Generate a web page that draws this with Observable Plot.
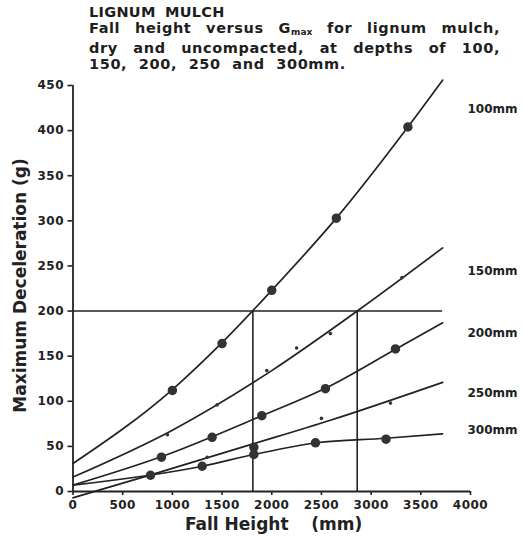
<!DOCTYPE html>
<html>
<head>
<meta charset="utf-8">
<script src="https://cdn.jsdelivr.net/npm/d3@7"></script>
<script src="https://cdn.jsdelivr.net/npm/@observablehq/plot@0.6"></script>
<style>
  html, body { margin: 0; padding: 0; background: #fff; }
  body { width: 524px; height: 538px; position: relative; overflow: hidden; font-family: "DejaVu Sans", sans-serif; color: #1e1e1e; }
  #title { position: absolute; left: 89px; top: 5px; width: 411px; font-size: 14.5px; font-weight: bold; line-height: 15.9px; letter-spacing: 0.6px; white-space: nowrap; }
  #title .l1 { letter-spacing: 0.3px; word-spacing: 4px; }
  #title .j { text-align: justify; text-align-last: justify; }
  #title .l4 { word-spacing: 6px; }
  #title sub { font-size: 9px; vertical-align: -2px; letter-spacing: 0; }
  #chart { position: absolute; left: 0; top: 70px; }
  #chart svg { font-family: "DejaVu Sans", sans-serif; }
  #chart svg g[aria-label="x-axis tick label"] text,
  #chart svg g[aria-label="y-axis tick label"] text { letter-spacing: 0.5px; }
</style>
</head>
<body>
<div id="title">
  <div class="l1">LIGNUM MULCH</div>
  <div class="j">Fall height versus G<sub>max</sub> for lignum mulch,</div>
  <div class="j">dry and uncompacted, at depths of 100,</div>
  <div class="l4">150, 200, 250 and 300mm.</div>
</div>
<div id="chart"></div>
<script>
// ---- data ----
const depths = ["100mm", "150mm", "200mm", "250mm", "300mm"];

// fitted curves (fall height mm -> max deceleration g)
const fitX100 = [0, 1000, 1500, 2000, 2650, 3370, 3720];
const fitY100 = [31, 113, 165, 223, 303, 404, 456];
const fitX150 = [0, 1000, 2000, 2860, 3720];
const fitY150 = [16, 68, 134, 200, 270];
const fitX200 = [0, 900, 1900, 2550, 3250, 3720];
const fitY200 = [7, 39, 84, 115, 158, 187];
const fitX250 = [0, 800, 1820, 2590, 3720];
const fitY250 = [-7, 19, 53, 79, 121];
const fitX300 = [0, 1300, 1820, 2450, 3150, 3720];
const fitY300 = [7, 28, 41, 54, 59, 64];

// measured points (large circles)
const ptX100 = [1000, 1500, 2000, 2650, 3370];
const ptY100 = [112, 164, 223, 303, 404];
const ptX200 = [890, 1400, 1900, 2540, 3245];
const ptY200 = [38, 60, 84, 114, 158];
const ptX250 = [780, 1820];
const ptY250 = [18, 49];
const ptX300 = [1300, 1820, 2440, 3150];
const ptY300 = [28, 41, 54, 58];

// measured points (small dots)
const dotX150 = [950, 1450, 1950, 2250, 2590, 3310];
const dotY150 = [63, 96, 134, 159, 175, 237];
const dotX250 = [1350, 2500, 3195];
const dotY250 = [38, 81, 98];

// 200 g criterion and the fall heights where it is reached
const criterionG = [200];
const criticalHeights = [1810, 2860];
const criterionEnd = 3720;

// label anchors (g) for the depth names at the right
const labelAt = [424, 244, 176, 109, 68];

const xTicks = [0, 500, 1000, 1500, 2000, 2500, 3000, 3500, 4000];
const yTicks = [0, 50, 100, 150, 200, 250, 300, 350, 400, 450];

// ---- build tables ----
const fits = [[fitX100, fitY100], [fitX150, fitY150], [fitX200, fitY200], [fitX250, fitY250], [fitX300, fitY300]];
const fitRows = fits.flatMap(([xs, ys], i) => xs.map((x, j) => ({depth: depths[i], x, y: ys[j]})));
const circleSets = [[ptX100, ptY100], [ptX200, ptY200], [ptX250, ptY250], [ptX300, ptY300]];
const circleRows = circleSets.flatMap(([xs, ys]) => xs.map((x, j) => ({x, y: ys[j]})));
const dotSets = [[dotX150, dotY150], [dotX250, dotY250]];
const dotRows = dotSets.flatMap(([xs, ys]) => xs.map((x, j) => ({x, y: ys[j]})));
const labelRows = depths.map((d, i) => ({depth: d, y: labelAt[i]}));

const ink = "#222";

const chart = Plot.plot({
  width: 524,
  height: 468,
  marginLeft: 72.5,
  marginRight: 54,
  marginTop: 15,
  marginBottom: 47,
  x: {domain: [0, 4000]},
  y: {domain: [0, 450]},
  style: {fontFamily: "DejaVu Sans, sans-serif", color: ink, overflow: "visible"},
  marks: [
    Plot.axisY({ticks: yTicks, tickFormat: "d", tickSize: 5, tickPadding: 4, fontSize: 12, fontWeight: "bold", label: null, stroke: ink, strokeWidth: 1.6}),
    Plot.axisX({ticks: xTicks, tickFormat: "d", tickSize: 4, tickPadding: 5, fontSize: 12, fontWeight: "bold", label: null, stroke: ink, strokeWidth: 1.6}),
    Plot.ruleX([0], {y1: 0, y2: 450, stroke: ink, strokeWidth: 1.8}),
    Plot.ruleY([0], {x1: 0, x2: 4000, stroke: ink, strokeWidth: 1.8}),
    Plot.ruleY(criterionG, {x1: 0, x2: criterionEnd, stroke: ink, strokeWidth: 1.6}),
    Plot.ruleX(criticalHeights, {y1: 0, y2: criterionG[0], stroke: ink, strokeWidth: 1.6}),
    Plot.line(fitRows, {x: "x", y: "y", z: "depth", curve: "monotone-x", stroke: ink, strokeWidth: 1.7, clip: false}),
    Plot.dot(circleRows, {x: "x", y: "y", r: 4, fill: "#333", stroke: "#333"}),
    Plot.dot(dotRows, {x: "x", y: "y", r: 1.8, fill: "#333"}),
    Plot.text(labelRows, {y: "y", text: "depth", frameAnchor: "right", textAnchor: "start", dx: -3, fontSize: 12, fontWeight: "bold", fill: ink}),
    Plot.text(["Maximum Deceleration (g)"], {frameAnchor: "left", textAnchor: "middle", lineAnchor: "middle", rotate: -90, dx: -52, dy: -3, fontSize: 17, fontWeight: "bold", fill: ink}),
    Plot.text(["Fall Height"], {frameAnchor: "bottom", textAnchor: "middle", lineAnchor: "middle", dy: 33, dx: -35, fontSize: 17, fontWeight: "bold", fill: ink}),
    Plot.text(["(mm)"], {frameAnchor: "bottom", textAnchor: "middle", lineAnchor: "middle", dy: 33, dx: 65, fontSize: 17, fontWeight: "bold", fill: ink})
  ]
});
document.getElementById("chart").appendChild(chart);
</script>
</body>
</html>
